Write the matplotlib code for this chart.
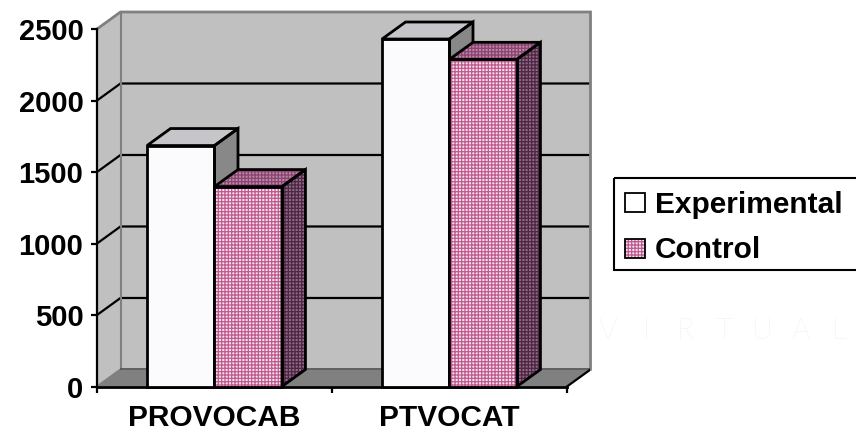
import matplotlib
matplotlib.use("Agg")
import matplotlib.pyplot as plt
from matplotlib.patches import Polygon, Rectangle

# ---- data -------------------------------------------------------------
categories = ["PROVOCAB", "PTVOCAT"]
series_names = ["Experimental", "Control"]
experimental = [1685, 2430]
control = [1398, 2288]
y_ticks = [0, 500, 1000, 1500, 2000, 2500]

plt.rcParams["font.family"] = ["Liberation Sans", "DejaVu Sans"]
plt.rcParams["hatch.linewidth"] = 0.9

W, H = 856, 434
fig = plt.figure(figsize=(W / 100, H / 100), dpi=100)
fig.patch.set_facecolor("white")

# faint background lettering
for k, ch in enumerate("VIRTUAL"):
    fig.text((608 + 38.5 * k) / W, 1 - 331 / H, ch, color="#E6E6E6",
             fontsize=21, family="Lato", weight="light",
             ha="center", va="center", zorder=-1)

ax = fig.add_axes([97 / W, (H - 386.5) / H, 493.5 / W, 374.5 / H])
ax.patch.set_visible(False)

n = len(categories)
DX, DY = 0.1, 119          # depth offset (category units, value units)
YMAX = y_ticks[-1]
ax.set_xlim(0, n + DX)
ax.set_ylim(0, YMAX + DY)

WALL = "#C0C0C0"
EDGE = "#808080"

# walls and floor
ax.add_patch(Polygon([(0, 0), (DX, DY), (DX, YMAX + DY), (0, YMAX)],
                     fc=WALL, ec="none", zorder=0.5))
ax.add_patch(Polygon([(DX, DY), (n + DX, DY), (n + DX, YMAX + DY), (DX, YMAX + DY)],
                     fc=WALL, ec="none", zorder=0.5))
ax.add_patch(Polygon([(0, 0), (n, 0), (n + DX, DY), (DX, DY)],
                     fc="#808080", ec="none", zorder=0.6))

# gridlines running across the side wall and back wall
for v in y_ticks[1:-1]:
    ax.plot([0, DX, n + DX], [v, v + DY, v + DY], color="black", lw=1.6,
            zorder=1, solid_joinstyle="miter", solid_capstyle="butt")

# wall outlines
ax.plot([0, DX, n + DX, n + DX], [YMAX, YMAX + DY, YMAX + DY, DY],
        color=EDGE, lw=2, zorder=1.2, solid_joinstyle="miter", clip_on=False)
ax.plot([DX, DX], [DY, YMAX + DY], color=EDGE, lw=1.5, zorder=1.2)
ax.plot([0, DX], [0, DY], color=EDGE, lw=1.5, zorder=1.2)
ax.plot([DX, n + DX], [DY, DY], color="#505050", lw=1.2, zorder=1.2)
ax.plot([n, n + DX], [0, DY], color="black", lw=1.6, zorder=1.2)

# ---- 3D columns --------------------------------------------------------
styles = {
    "Experimental": dict(front=("#FBFBFD", None), top=("#C6C6CA", None),
                         side=("#888888", None)),
    "Control": dict(front=("#F4E2EC", "#C05A8E"), top=("#BC86A8", "#8A4470"),
                    side=("#96668A", "#4A2840")),
}
HATCH = "+++++"
BW = 0.287
GROUP_OFF = 0.213


def add_face(pts, spec, z):
    fc, hc = spec
    if hc is None:
        ax.add_patch(Polygon(pts, fc=fc, ec="none", zorder=z, clip_on=False))
    else:
        ax.add_patch(Polygon(pts, fc=fc, ec=hc, hatch=HATCH, lw=0,
                             zorder=z, clip_on=False))
    ax.add_patch(Polygon(pts, fill=False, ec="black", lw=2, zorder=z + 0.01,
                         joinstyle="miter", clip_on=False))


values = {"Experimental": experimental, "Control": control}
for j, name in enumerate(series_names):
    st = styles[name]
    z = 3 + j
    for i in range(n):
        v = values[name][i]
        xl = i + GROUP_OFF + j * BW
        xr = xl + BW
        add_face([(xr, 0), (xr + DX, DY), (xr + DX, v + DY), (xr, v)], st["side"], z)
        add_face([(xl, v), (xr, v), (xr + DX, v + DY), (xl + DX, v + DY)], st["top"], z)
    lefts = [i + GROUP_OFF + j * BW for i in range(n)]
    fc, hc = st["front"]
    if hc is None:
        ax.bar(lefts, values[name], BW, align="edge", color=fc, lw=0,
               zorder=z, clip_on=False)
    else:
        ax.bar(lefts, values[name], BW, align="edge", color=fc, edgecolor=hc,
               hatch=HATCH, lw=0, zorder=z, clip_on=False)
    ax.bar(lefts, values[name], BW, align="edge", fill=False, edgecolor="black",
           lw=2, zorder=z + 0.02, clip_on=False)

# ---- axes --------------------------------------------------------------
for s in ("top", "right"):
    ax.spines[s].set_visible(False)
ax.spines["left"].set_bounds(0, YMAX)
ax.spines["left"].set_linewidth(1.6)
ax.spines["bottom"].set_bounds(0, n)
ax.spines["bottom"].set_linewidth(2)
ax.spines["left"].set_zorder(2.5)
ax.spines["bottom"].set_zorder(2.5)

ax.set_yticks(y_ticks)
ax.set_yticklabels([str(t) for t in y_ticks], fontsize=21, fontweight="bold")
ax.tick_params(axis="y", length=4.3, width=1.6, pad=5.5, direction="out")

ax.set_xticks(range(n + 1))
ax.set_xticklabels([""] * (n + 1))
ax.tick_params(axis="x", which="major", length=4.5, width=1.6, direction="out")
ax.set_xticks([i + 0.5 for i in range(n)], minor=True)
ax.set_xticklabels(categories, minor=True, fontsize=21.5, fontweight="bold")
ax.tick_params(axis="x", which="minor", length=0, pad=12.5)

# ---- legend ------------------------------------------------------------
lg = fig.add_axes([0, 0, 1, 1], zorder=5)
lg.set_xlim(0, W)
lg.set_ylim(H, 0)
lg.axis("off")
lg.add_patch(Rectangle((614, 178), 270, 92, fill=False, ec="black", lw=1.5,
                       clip_on=False))
baselines = [213, 258.5]
for name, yb in zip(series_names, baselines):
    fc, hc = styles[name]["front"]
    sq = (625, yb - 20)
    if hc is None:
        lg.add_patch(Rectangle(sq, 20, 19, fc="white", ec="none"))
    else:
        lg.add_patch(Rectangle(sq, 20, 19, fc=fc, ec=hc, hatch=HATCH, lw=0))
    lg.add_patch(Rectangle(sq, 20, 19, fill=False, ec="black", lw=1.3))
    lg.text(655, yb, name, fontsize=21.5, fontweight="bold", va="baseline",
            ha="left")

fig.savefig("out.png", dpi=100, facecolor="white")
